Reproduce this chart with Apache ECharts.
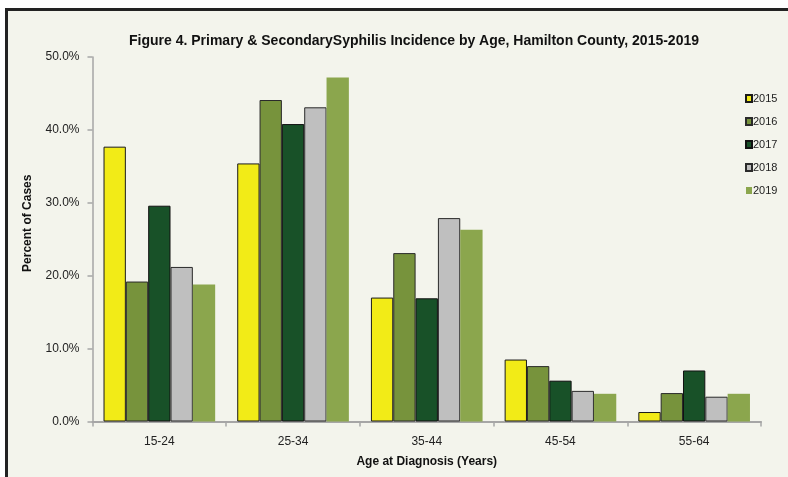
<!DOCTYPE html>
<html>
<head>
<meta charset="utf-8">
<script src="https://cdn.jsdelivr.net/npm/echarts@6/dist/echarts.min.js"></script>
<style>
html,body{margin:0;padding:0;background:#ffffff;}
#c{width:788px;height:477px;}
</style>
</head>
<body>
<div id="c"></div>
<script>
const categories = ['15-24', '25-34', '35-44', '45-54', '55-64'];
const years = ['2015', '2016', '2017', '2018', '2019'];
const v2015 = [37.7, 35.4, 17.0, 8.5, 1.3];
const v2016 = [19.2, 44.1, 23.1, 7.6, 3.9];
const v2017 = [29.6, 40.8, 16.9, 5.6, 7.0];
const v2018 = [21.2, 43.1, 27.9, 4.2, 3.4];
const v2019 = [18.8, 47.2, 26.3, 3.8, 3.8];
const yTicks = [0, 10, 20, 30, 40, 50];

const seriesValues = [v2015, v2016, v2017, v2018, v2019];
const colors = ['#F2EB17', '#77933C', '#185128', '#BFBFBF', '#8BA64D'];
const borders = ['#1a1a1a', '#2a2a2a', '#111111', '#2a2a2a', null];

const chart = echarts.init(document.getElementById('c'), null, {renderer: 'canvas'});
const font = '"Liberation Sans", Arial, sans-serif';

const series = years.map((y, i) => ({
  name: y,
  type: 'bar',
  data: seriesValues[i],
  barGap: '0%',
  barCategoryGap: '16.5%',
  itemStyle: {
    color: colors[i],
    borderColor: borders[i] || colors[i],
    borderWidth: borders[i] ? 1 : 0
  }
}));

chart.setOption({
  animation: false,
  backgroundColor: '#ffffff',
  textStyle: {fontFamily: font},
  graphic: [
    {type: 'rect', z: -10, silent: true, shape: {x: 5, y: 8, width: 790, height: 480}, style: {fill: '#F3F4EC'}},
    {type: 'rect', z: 100, silent: true, shape: {x: 5, y: 8, width: 790, height: 3}, style: {fill: '#222222'}},
    {type: 'rect', z: 100, silent: true, shape: {x: 5, y: 8, width: 3, height: 480}, style: {fill: '#222222'}}
  ],
  title: {
    text: 'Figure 4. Primary & SecondarySyphilis Incidence by Age, Hamilton County, 2015-2019',
    left: 409, top: 29, textAlign: 'center',
    textStyle: {fontFamily: font, fontSize: 14, fontWeight: 'bold', color: '#111111'}
  },
  legend: {
    orient: 'vertical',
    left: 740, top: 88,
    itemWidth: 6, itemHeight: 7,
    itemGap: 12,
    icon: 'rect',
    textStyle: {fontFamily: font, fontSize: 11, color: '#222222', padding: [0, 0, 0, -4]},
    data: years
  },
  grid: {left: 92.5, right: 27, top: 57, bottom: 55.5, containLabel: false},
  xAxis: {
    type: 'category',
    data: categories,
    name: 'Age at Diagnosis (Years)',
    nameLocation: 'middle',
    nameGap: 34,
    nameTextStyle: {fontFamily: font, fontSize: 12, fontWeight: 'bold', color: '#111111'},
    axisLine: {lineStyle: {color: '#A6A6A6', width: 2}},
    axisTick: {show: true, length: 5, lineStyle: {color: '#A6A6A6', width: 1.5}, alignWithLabel: false},
    axisLabel: {fontFamily: font, fontSize: 12, color: '#222222', margin: 14}
  },
  yAxis: {
    type: 'value',
    min: 0, max: 50, interval: 10,
    name: 'Percent of Cases',
    nameLocation: 'middle',
    nameGap: 59,
    nameTextStyle: {fontFamily: font, fontSize: 12, fontWeight: 'bold', color: '#111111', padding: [0, 0, 0, 32]},
    axisLine: {show: true, lineStyle: {color: '#A6A6A6', width: 1.5}},
    axisTick: {show: true, length: 5, lineStyle: {color: '#A6A6A6', width: 1.5}},
    splitLine: {show: false},
    axisLabel: {
      fontFamily: font, fontSize: 12, color: '#222222', margin: 13,
      formatter: v => yTicks.indexOf(v) >= 0 ? v.toFixed(1) + '%' : ''
    }
  },
  series: series
});
</script>
</body>
</html>
